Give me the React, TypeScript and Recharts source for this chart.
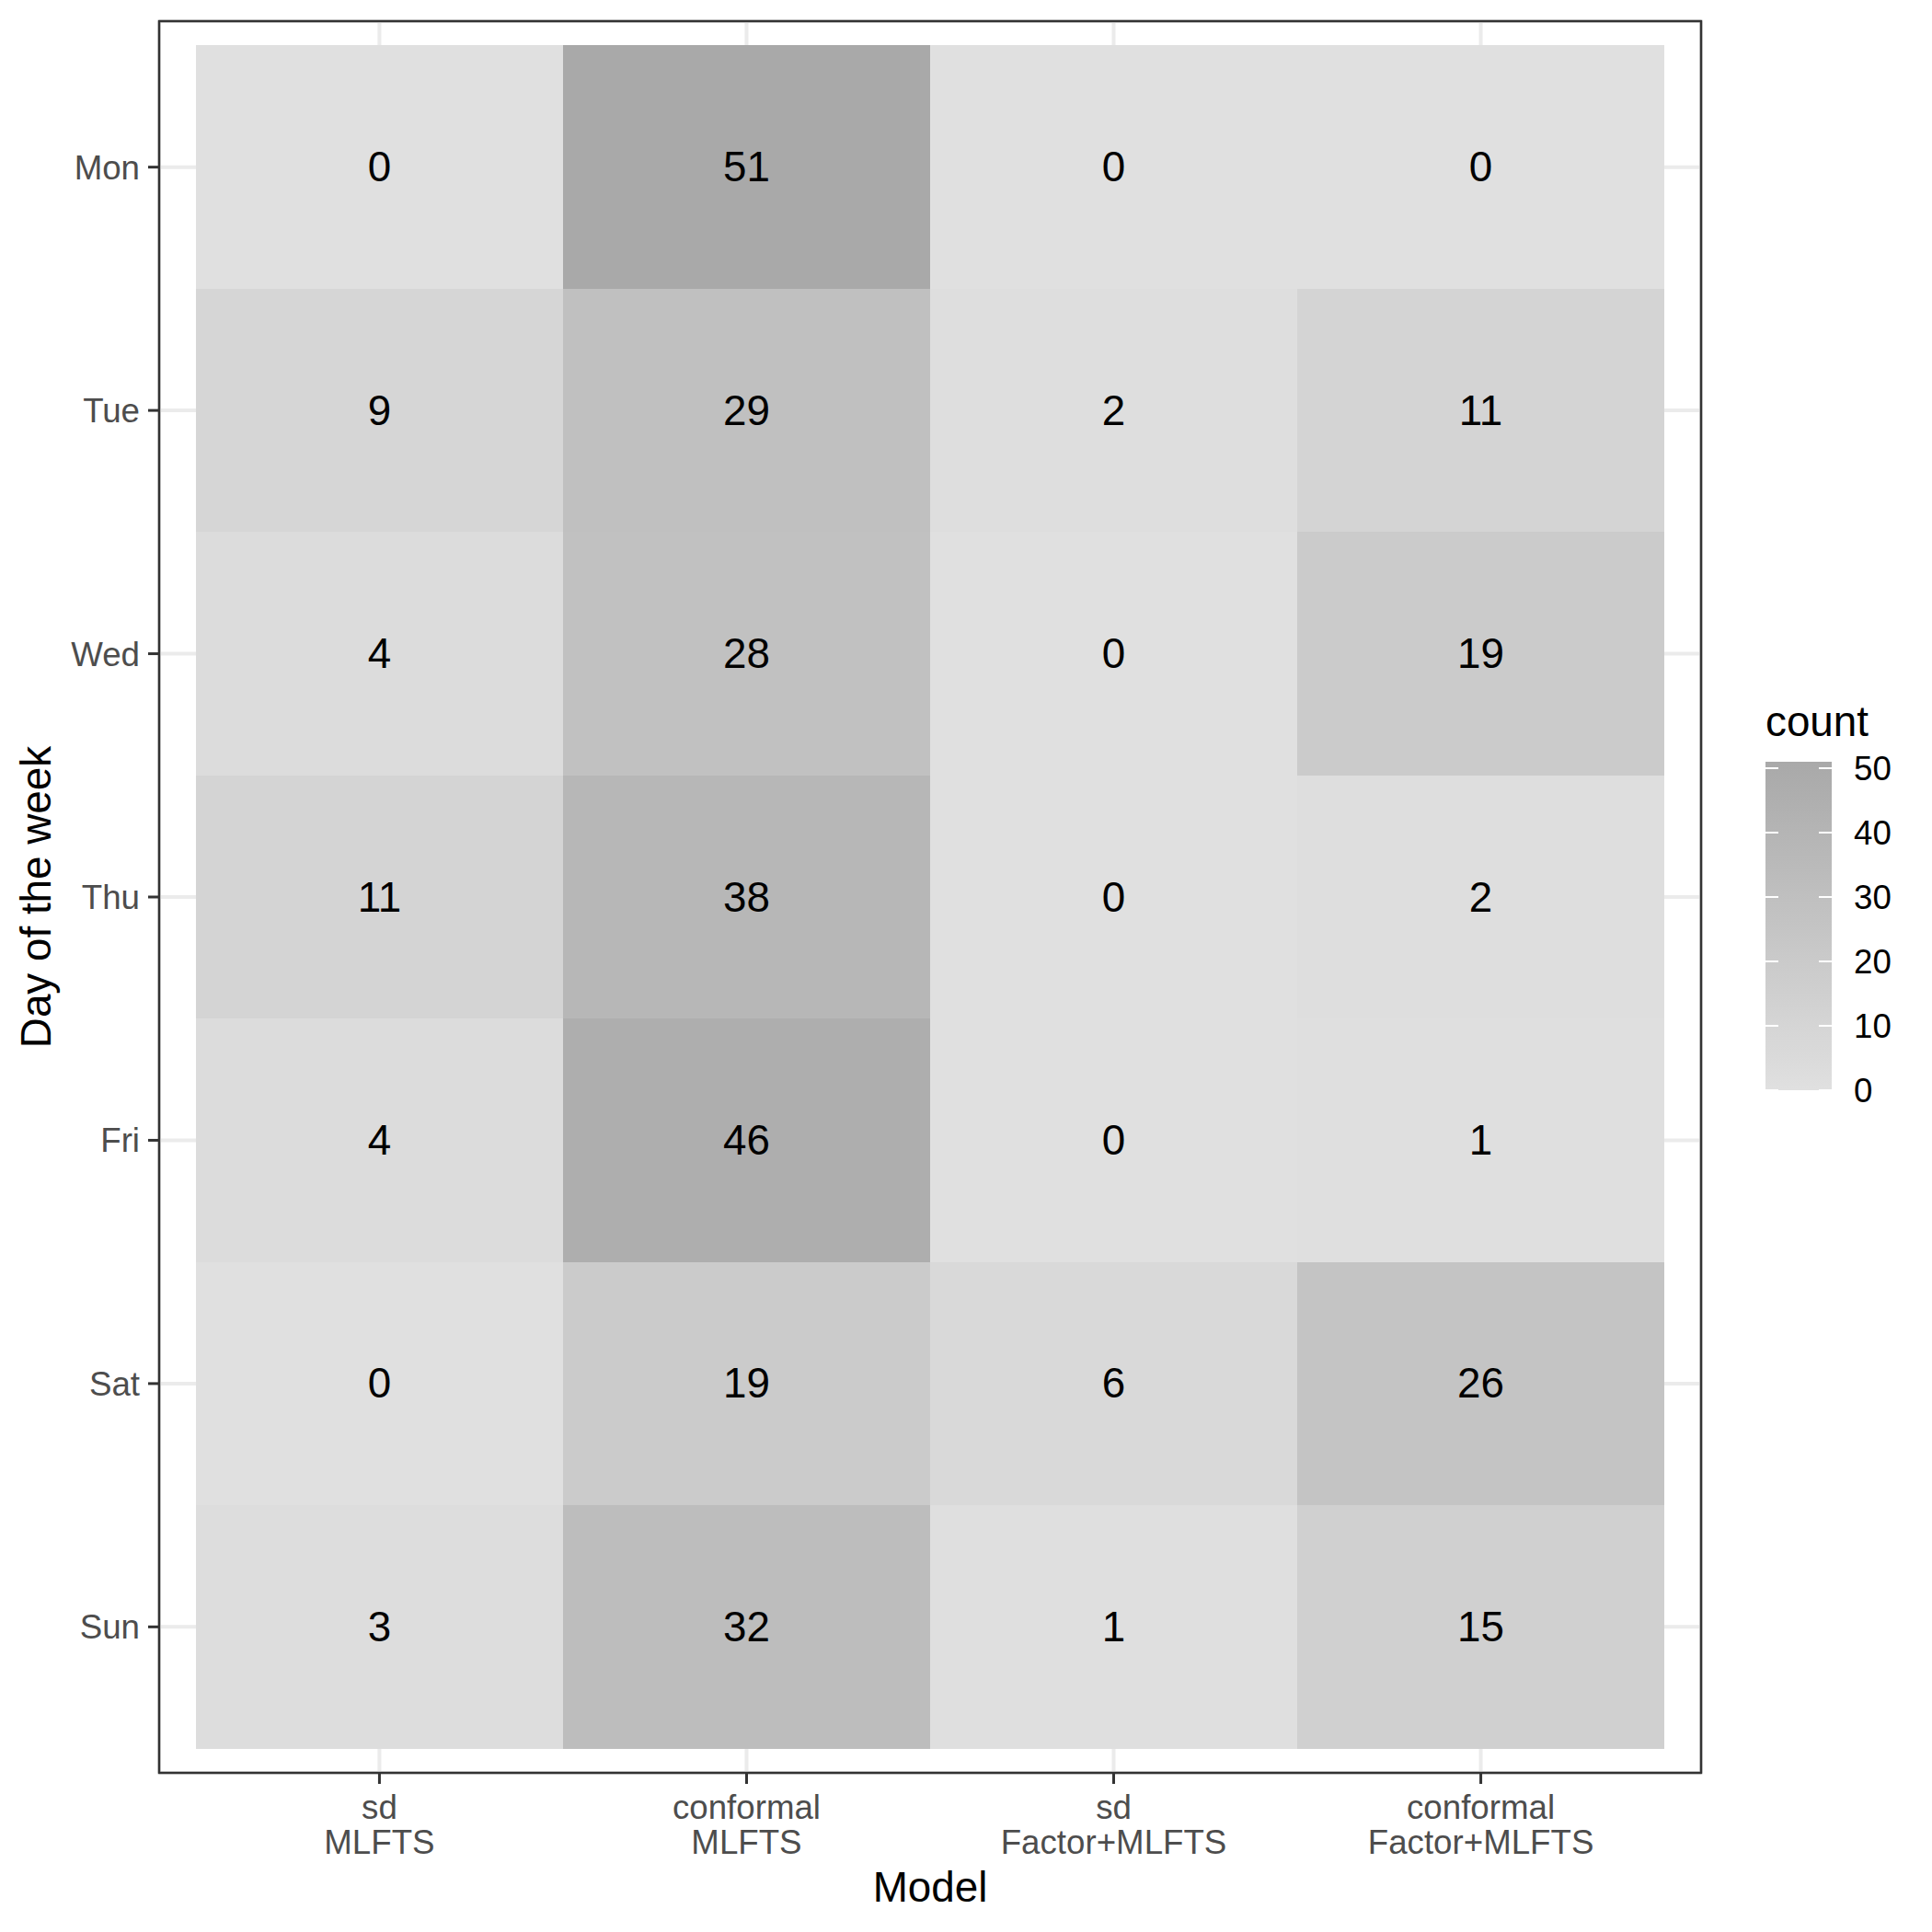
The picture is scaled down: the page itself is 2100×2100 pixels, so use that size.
import React from 'react';
import {
  ScatterChart,
  Scatter,
  XAxis,
  YAxis,
  CartesianGrid,
  ReferenceArea,
} from 'recharts';

// Heatmap of counts per day of the week and model (ggplot theme_bw look)

const DAYS = ['Mon', 'Tue', 'Wed', 'Thu', 'Fri', 'Sat', 'Sun'];
const MODEL_METHOD = ['sd', 'conformal', 'sd', 'conformal'];
const MODEL_NAME = ['MLFTS', 'MLFTS', 'Factor+MLFTS', 'Factor+MLFTS'];

const sdMLFTS = [0, 9, 4, 11, 4, 0, 3];
const conformalMLFTS = [51, 29, 28, 38, 46, 19, 32];
const sdFactorMLFTS = [0, 2, 0, 0, 0, 6, 1];
const conformalFactorMLFTS = [0, 11, 19, 2, 1, 26, 15];

const LEGEND_TICKS = [0, 10, 20, 30, 40, 50];
const COUNT_MIN = 0;
const COUNT_MAX = 51;

const columns = [sdMLFTS, conformalMLFTS, sdFactorMLFTS, conformalFactorMLFTS];
const cells = columns.flatMap((col, i) =>
  col.map((count, j) => ({ x: i + 1, y: j + 1, count })),
);

// layout
const W = 2100;
const H = 2100;
const PANEL_L = 173;
const PANEL_R = 1849;
const PANEL_T = 23;
const PANEL_B = 1927;
const X_DOMAIN: [number, number] = [0.4, 4.6];
const Y_DOMAIN: [number, number] = [0.4, 7.6];
const UNIT_X = (PANEL_R - PANEL_L) / (X_DOMAIN[1] - X_DOMAIN[0]);
const UNIT_Y = (PANEL_B - PANEL_T) / (Y_DOMAIN[1] - Y_DOMAIN[0]);

const FONT = '"Liberation Sans", Arial, Helvetica, sans-serif';
const AXIS_TEXT = '#4D4D4D';
const DARK = '#333333';

// grey gradient interpolated in L* like scales::seq_gradient_pal
const LOW = 0xe0;
const HIGH = 0xa9;
const toLin = (c: number) => {
  const s = c / 255;
  return s <= 0.04045 ? s / 12.92 : Math.pow((s + 0.055) / 1.055, 2.4);
};
const toL = (c: number) => {
  const y = toLin(c);
  return y > 0.008856 ? 116 * Math.cbrt(y) - 16 : 903.3 * y;
};
const fromL = (L: number) => {
  const fy = (L + 16) / 116;
  const y = fy * fy * fy > 0.008856 ? fy * fy * fy : L / 903.3;
  const s = y <= 0.0031308 ? 12.92 * y : 1.055 * Math.pow(y, 1 / 2.4) - 0.055;
  return Math.round(Math.max(0, Math.min(1, s)) * 255);
};
function fillFor(v: number) {
  const t = (v - COUNT_MIN) / (COUNT_MAX - COUNT_MIN);
  const L = toL(LOW) + (toL(HIGH) - toL(LOW)) * t;
  const g = fromL(L).toString(16).padStart(2, '0');
  return `#${g}${g}${g}`;
}

function Tile(props: any) {
  const { cx, cy, payload } = props;
  if (cx == null || cy == null) return null;
  return (
    <g>
      <rect
        x={cx - UNIT_X / 2}
        y={cy - UNIT_Y / 2}
        width={UNIT_X}
        height={UNIT_Y}
        fill={fillFor(payload.count)}
        shapeRendering="crispEdges"
      />
      <text
        x={cx}
        y={cy}
        textAnchor="middle"
        dominantBaseline="central"
        fontSize={45.8}
        fontFamily={FONT}
        fill="#000000"
      >
        {payload.count}
      </text>
    </g>
  );
}

function ModelTick(props: any) {
  const { x, y, payload } = props;
  const i = Math.round(payload.value) - 1;
  return (
    <text x={x} y={y} textAnchor="middle" fontSize={36.7} fontFamily={FONT} fill={AXIS_TEXT}>
      <tspan x={x} dy={38}>{MODEL_METHOD[i]}</tspan>
      <tspan x={x} dy={38}>{MODEL_NAME[i]}</tspan>
    </text>
  );
}

// colourbar legend
const BAR_X = 1919;
const BAR_W = 72;
const BAR_BOTTOM = 1185;
const BAR_TOP = 828;
const barY = (v: number) =>
  BAR_BOTTOM - ((v - COUNT_MIN) / (COUNT_MAX - COUNT_MIN)) * (BAR_BOTTOM - BAR_TOP);

function Overlay() {
  const stops = Array.from({ length: 11 }, (_, k) => k / 10);
  return (
    <svg
      width={W}
      height={H}
      style={{ position: 'absolute', left: 0, top: 0, pointerEvents: 'none' }}
      fontFamily={FONT}
    >
      <defs>
        <linearGradient id="countGrad" x1="0" y1="1" x2="0" y2="0">
          {stops.map((s) => (
            <stop key={s} offset={s} stopColor={fillFor(COUNT_MIN + s * (COUNT_MAX - COUNT_MIN))} />
          ))}
        </linearGradient>
      </defs>
      <text
        x={(PANEL_L + PANEL_R) / 2}
        y={2067}
        textAnchor="middle"
        fontSize={45.8}
        fill="#000000"
      >
        Model
      </text>
      <text
        transform={`translate(55, ${(PANEL_T + PANEL_B) / 2}) rotate(-90)`}
        textAnchor="middle"
        fontSize={45.8}
        fill="#000000"
      >
        Day of the week
      </text>
      <text x={BAR_X} y={800} fontSize={45.8} fill="#000000">
        count
      </text>
      <rect x={BAR_X} y={BAR_TOP} width={BAR_W} height={BAR_BOTTOM - BAR_TOP} fill="url(#countGrad)" />
      {LEGEND_TICKS.map((t) => (
        <g key={t}>
          <line x1={BAR_X} x2={BAR_X + 14} y1={barY(t)} y2={barY(t)} stroke="#ffffff" strokeWidth={2} />
          <line
            x1={BAR_X + BAR_W - 14}
            x2={BAR_X + BAR_W}
            y1={barY(t)}
            y2={barY(t)}
            stroke="#ffffff"
            strokeWidth={2}
          />
          <text x={2015} y={barY(t)} dominantBaseline="central" fontSize={36.7} fill="#000000">
            {t}
          </text>
        </g>
      ))}
    </svg>
  );
}

export default function App() {
  return (
    <div style={{ position: 'absolute', left: 0, top: 0, width: W, height: H, background: '#ffffff' }}>
      <ScatterChart
        width={W}
        height={H}
        margin={{ top: PANEL_T, right: W - PANEL_R, left: PANEL_L - 150, bottom: H - PANEL_B - 150 }}
        style={{ fontFamily: FONT }}
      >
        <CartesianGrid stroke="#EBEBEB" strokeWidth={4} />
        <XAxis
          type="number"
          dataKey="x"
          domain={X_DOMAIN}
          ticks={[1, 2, 3, 4]}
          allowDataOverflow
          height={150}
          axisLine={false}
          tickSize={12}
          tickMargin={0}
          tickLine={{ stroke: DARK, strokeWidth: 3 }}
          tick={<ModelTick />}
          interval={0}
        />
        <YAxis
          type="number"
          dataKey="y"
          domain={Y_DOMAIN}
          ticks={[1, 2, 3, 4, 5, 6, 7]}
          allowDataOverflow
          reversed
          width={150}
          axisLine={false}
          tickSize={12}
          tickMargin={9}
          tickLine={{ stroke: DARK, strokeWidth: 3 }}
          tick={{ fill: AXIS_TEXT, fontSize: 36.7, fontFamily: FONT }}
          tickFormatter={(v: number) => DAYS[Math.round(v) - 1]}
          interval={0}
        />
        <Scatter data={cells} shape={<Tile />} isAnimationActive={false} />
        <ReferenceArea
          x1={X_DOMAIN[0]}
          x2={X_DOMAIN[1]}
          y1={Y_DOMAIN[0]}
          y2={Y_DOMAIN[1]}
          fill="none"
          fillOpacity={0}
          stroke={DARK}
          strokeWidth={2.5}
          ifOverflow="visible"
        />
      </ScatterChart>
      <Overlay />
    </div>
  );
}
